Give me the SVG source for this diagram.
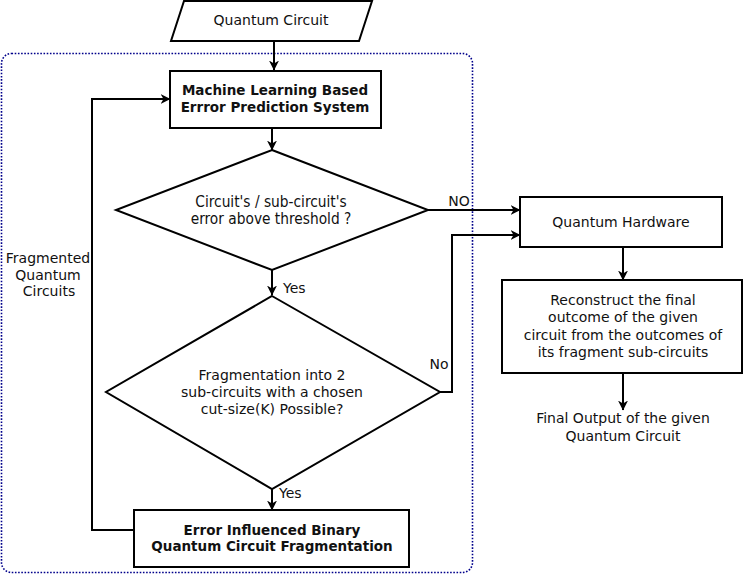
<svg xmlns="http://www.w3.org/2000/svg" width="745" height="575" viewBox="0 0 745 575">
<defs>
<marker id="ah" viewBox="0 0 10 10" refX="9.5" refY="5" markerWidth="10" markerHeight="10" markerUnits="userSpaceOnUse" orient="auto">
<path d="M0,0 L10,5 L0,10 L3,5 z" fill="#000"/>
</marker>
<style>
.n{fill:#fff;stroke:#000;stroke-width:2}
.t{font-family:"DejaVu Sans",sans-serif;font-size:14px;fill:#111;text-anchor:middle}
.tc{font-family:"DejaVu Sans Condensed","DejaVu Sans",sans-serif;font-stretch:condensed;font-size:15.3px;fill:#111;text-anchor:middle}
.b{font-family:"DejaVu Sans",sans-serif;font-size:13.5px;font-weight:bold;fill:#111;text-anchor:middle}
.c{fill:none;stroke:#000;stroke-width:2;marker-end:url(#ah)}
</style>
</defs>
<rect x="1.5" y="53.5" width="471" height="519" rx="10" fill="none" stroke="#00008b" stroke-width="1.6" stroke-dasharray="1.6 1.6"/>
<g id="connectors">
<path class="c" d="M274,41 V70"/>
<path class="c" d="M272,128 V150"/>
<path class="c" d="M428,210 H520"/>
<path class="c" d="M272,270 V295"/>
<path class="c" d="M440,392 H452 V235 H520"/>
<path class="c" d="M272,489 V510"/>
<path class="c" d="M134,530 H92 V99 H170"/>
<path class="c" d="M623,247 V280"/>
<path class="c" d="M623,373 V410"/>
<text class="t" x="459" y="206">NO</text>
<text class="t" x="283" y="293" style="text-anchor:start">Yes</text>
<text class="t" x="439" y="369">No</text>
<text class="t" x="279" y="498" style="text-anchor:start">Yes</text>
<text class="t" x="48" y="263">Fragmented</text>
<text class="t" x="48" y="280">Quantum</text>
<text class="t" x="49" y="296">Circuits</text>
</g>
<g id="quantum-circuit">
<polygon class="n" points="184,1 372,1 359,41 171,41"/>
<text class="t" x="271" y="25">Quantum Circuit</text>
</g>
<g id="ml-system">
<rect class="n" x="170" y="71" width="211" height="57"/>
<text class="b" x="275" y="95">Machine Learning Based</text>
<text class="b" x="275" y="112">Errror Prediction System</text>
</g>
<g id="decision-threshold">
<polygon class="n" points="272,150 428,210 272,270 116,210"/>
<text class="tc" x="271" y="207">Circuit's / sub-circuit's</text>
<text class="tc" x="271" y="224">error above threshold ?</text>
</g>
<g id="decision-fragment">
<polygon class="n" points="272,296 440,392 272,489 106,392"/>
<text class="t" x="272" y="380">Fragmentation into 2</text>
<text class="t" x="272" y="397">sub-circuits with a chosen</text>
<text class="t" x="272" y="414">cut-size(K) Possible?</text>
</g>
<g id="fragmentation">
<rect class="n" x="134" y="510" width="275" height="57"/>
<text class="b" x="272" y="535">Error Influenced Binary</text>
<text class="b" x="272" y="551">Quantum Circuit Fragmentation</text>
</g>
<g id="quantum-hardware">
<rect class="n" x="520" y="197" width="202" height="50"/>
<text class="t" x="621" y="227">Quantum Hardware</text>
</g>
<g id="reconstruct">
<rect class="n" x="502" y="280" width="240" height="93"/>
<text class="t" x="623" y="305">Reconstruct the final</text>
<text class="t" x="623" y="322">outcome of the given</text>
<text class="t" x="623" y="340">circuit from the outcomes of</text>
<text class="t" x="623" y="357">its fragment sub-circuits</text>
</g>
<g id="final-output">
<text class="t" x="623" y="423">Final Output of the given</text>
<text class="t" x="623" y="441">Quantum Circuit</text>
</g>
</svg>
